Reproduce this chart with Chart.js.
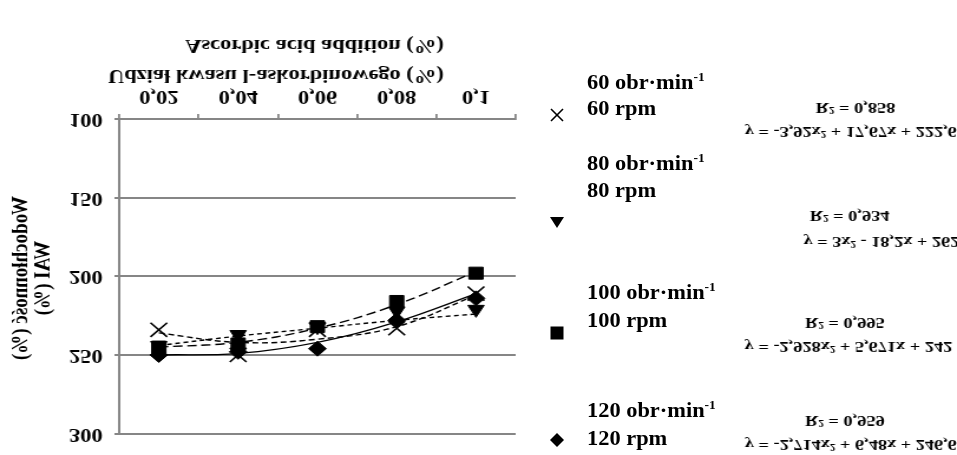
<!DOCTYPE html>
<html>
<head>
<meta charset="utf-8">
<script src="https://cdn.jsdelivr.net/npm/chart.js@4/dist/chart.umd.min.js"></script>
<style>
  body { margin: 0; background: #fff; width: 957px; height: 455px; overflow: hidden; position: relative; }
  /* the picture is stretched sideways and turned upside down */
  #wrap { position: absolute; left: 0; top: 0; width: 811px; height: 455px; transform-origin: 0 227.5px; transform: scale(1.18, -1); }
  #wai { display: block; width: 811px; height: 455px; }
  #legend { position: absolute; left: 0; top: 0; width: 957px; height: 455px; font-family: "Liberation Serif", serif; font-weight: bold; }
  #legend .txt { position: absolute; font-size: 20px; line-height: 20px; white-space: nowrap; transform: scaleX(1.12); transform-origin: 0 50%; }
  #legend sup { font-size: 12px; vertical-align: 8px; line-height: 0; }
  #legend svg { position: absolute; }
</style>
</head>
<body>
<div id="wrap"><canvas id="wai" width="811" height="455"></canvas></div>
<div id="legend"></div>
<script>
// dane
const categories = ['0,02', '0,04', '0,06', '0,08', '0,1'];
const speeds = ['60', '80', '100', '120'];
const yTicks = [100, 150, 200, 250, 300];

const wai60 = [234, 250, 234, 233, 211];
const wai80 = [244, 237, 232, 222, 221];
const wai100 = [245, 243, 232, 216, 198];
const wai120 = [250, 248, 246, 228, 214];

// linie trendu (wielomian 2 st.)
const trend60 = [236, 242, 240, 232, 212];
const trend80 = [244, 238, 233, 228, 224];
const trend100 = [245, 242, 233, 218, 197];
const trend120 = [250, 249, 242, 229, 211];

const equations = ['y = -3,92x² + 17,67x + 222,6', 'y = 3x² - 18,2x + 262', 'y = -2,928x² + 5,671x + 242', 'y = -2,714x² + 6,48x + 246,6'];
const r2Labels = ['R² = 0,858', 'R² = 0,934', 'R² = 0,995', 'R² = 0,959'];

const xTitle = ['Udział kwasu l-askorbinowego (%)', 'Ascorbic acid addition (%)'];
const yTitle = ['Wodochłonność (%)', 'WAI (%)'];

const gray = '#868686';
const serif = '"Liberation Serif", serif';

const seriesValues = [wai60, wai80, wai100, wai120];
const trendValues = [trend60, trend80, trend100, trend120];
const pointStyles = ['crossRot', 'triangle', 'rect', 'rectRot'];
const pointSizes = [10, 8, 8.5, 7.5];
const dashes = [[5, 3], [4, 3], [8, 4], []];

var datasets = [];
trendValues.forEach(function (t, i) {
    datasets.push({
        data: t,
        borderColor: '#000',
        borderWidth: 1.4,
        borderDash: dashes[i],
        pointRadius: 0,
        tension: 0.4,
        fill: false
    });
});
seriesValues.forEach(function (v, i) {
    datasets.push({
        label: speeds[i] + ' rpm',
        data: v,
        showLine: false,
        pointStyle: pointStyles[i],
        pointRadius: pointSizes[i],
        pointBackgroundColor: '#000',
        pointBorderColor: '#000',
        pointBorderWidth: i === 0 ? 1.6 : 1
    });
});

// napisy: tytuły osi i równania trendów
const labelsPlugin = {
    id: 'labels',
    afterDraw(chart) {
        const ctx = chart.ctx;
        ctx.save();
        ctx.fillStyle = '#000';
        ctx.textBaseline = 'middle';

        ctx.font = 'bold 19px ' + serif;
        ctx.textAlign = 'right';
        ctx.fillText(xTitle[0], 376, 380);
        ctx.fillText(xTitle[1], 376, 410);

        ctx.save();
        ctx.translate(18, 177);
        ctx.rotate(-Math.PI / 2);
        ctx.textAlign = 'center';
        ctx.fillText(yTitle[0], 0, 0);
        ctx.fillText(yTitle[1], 0, 18.6);
        ctx.restore();

        ctx.font = 'bold 15.5px ' + serif;
        ctx.textAlign = 'center';
        const eqX = [721, 747, 719, 721];
        const eqY = [324, 214, 109, 11];
        const r2X = [725, 720, 716, 716];
        const r2Y = [348, 240, 133, 35];
        for (let i = 0; i < equations.length; i++) {
            ctx.fillText(equations[i], eqX[i], eqY[i]);
            ctx.fillText(r2Labels[i], r2X[i], r2Y[i]);
        }
        ctx.restore();
    }
};

var ctx = document.getElementById('wai').getContext('2d');
var waiChart = new Chart(ctx, {
    type: 'line',
    data: {
        labels: categories,
        datasets: datasets
    },
    options: {
        responsive: false,
        devicePixelRatio: 1,
        animation: false,
        events: [],
        layout: { autoPadding: false, padding: { left: 0, right: 374, top: 16, bottom: 0 } },
        plugins: {
            legend: { display: false },
            tooltip: { enabled: false }
        },
        scales: {
            x: {
                offset: true,
                afterFit: function (scale) { scale.height = 119; },
                grid: {
                    offset: true,
                    color: function (c) { return c.index === categories.length ? gray : 'rgba(0,0,0,0)'; },
                    tickColor: gray,
                    lineWidth: 1.8,
                    tickLength: 5
                },
                border: { color: gray, width: 2 },
                ticks: { color: '#000', padding: 7, maxRotation: 0, font: { family: serif, size: 19, weight: 'bold' } }
            },
            y: {
                min: yTicks[0],
                max: yTicks[yTicks.length - 1],
                afterFit: function (scale) { scale.width = 101; },
                afterBuildTicks: function (scale) { scale.ticks = yTicks.map(function (v) { return { value: v }; }); },
                grid: { color: gray, lineWidth: 2, tickLength: 4 },
                border: { color: gray, width: 2 },
                ticks: { color: '#000', padding: 10, font: { family: serif, size: 19, weight: 'bold' } }
            }
        }
    },
    plugins: [labelsPlugin]
});

// legenda (nieodwrócona)
const legendTop = [82, 163, 292, 410];
const legendBottom = [108, 190, 320, 438];
const markerY = [115, 222, 333, 440];
const markerSvg = [
    '<line x1="2" y1="2" x2="14" y2="14" stroke="#000" stroke-width="1.6"/><line x1="14" y1="2" x2="2" y2="14" stroke="#000" stroke-width="1.6"/>',
    '<polygon points="1,3 15,3 8,14" fill="#000"/>',
    '<rect x="1.5" y="1.5" width="13" height="13" fill="#000"/>',
    '<polygon points="8,1 15,8 8,15 1,8" fill="#000"/>'
];
var legend = document.getElementById('legend');
var html = '';
speeds.forEach(function (s, i) {
    html += '<div class="txt" style="left:587px;top:' + (legendTop[i] - 10) + 'px">' + s + ' obr·min<sup>-1</sup></div>';
    html += '<div class="txt" style="left:587px;top:' + (legendBottom[i] - 10) + 'px">' + s + ' rpm</div>';
    html += '<svg width="16" height="16" style="left:549px;top:' + (markerY[i] - 8) + 'px">' + markerSvg[i] + '</svg>';
});
legend.innerHTML = html;
</script>
</body>
</html>
